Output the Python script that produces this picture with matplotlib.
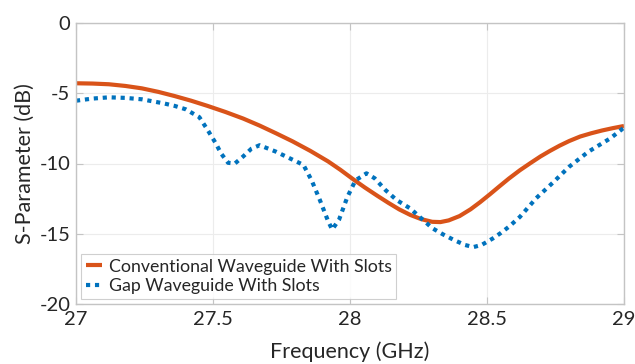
import numpy as np
import matplotlib
matplotlib.use("Agg")
import matplotlib.pyplot as plt

plt.rcParams['font.family'] = ['Lato', 'DejaVu Sans']

# Conventional waveguide with slots (smooth response)
freq_conv = [27.0, 27.06, 27.12, 27.18, 27.24, 27.30, 27.36, 27.42, 27.48,
             27.545, 27.61, 27.67, 27.73, 27.79, 27.855, 27.92, 27.965,
             28.01, 28.055, 28.10, 28.14, 28.18, 28.22, 28.26, 28.30,
             28.33, 28.36, 28.40, 28.44, 28.475, 28.51, 28.545, 28.58,
             28.62, 28.66, 28.695, 28.73, 28.765, 28.80, 28.84, 28.88,
             28.92, 28.96, 29.0]
s_conv = [-4.29, -4.31, -4.36, -4.48, -4.65, -4.9, -5.2, -5.53, -5.9,
          -6.33, -6.8, -7.3, -7.85, -8.42, -9.1, -9.85, -10.45,
          -11.1, -11.72, -12.3, -12.8, -13.27, -13.66, -13.96, -14.15,
          -14.17, -14.05, -13.74, -13.26, -12.75, -12.2, -11.63, -11.07,
          -10.48, -9.95, -9.5, -9.1, -8.73, -8.4, -8.08, -7.85,
          -7.65, -7.48, -7.33]

# Gap waveguide with slots (resonant ripples)
freq_gap = [27.0, 27.06, 27.12, 27.18, 27.24, 27.32, 27.36, 27.40, 27.45,
            27.48, 27.51, 27.53, 27.555, 27.58, 27.61, 27.64, 27.67,
            27.73, 27.78, 27.83, 27.86, 27.89, 27.92, 27.935, 27.96,
            27.99, 28.02, 28.06, 28.09, 28.13, 28.17, 28.22, 28.26,
            28.30, 28.34, 28.38, 28.42, 28.45, 28.48, 28.52, 28.55,
            28.58, 28.62, 28.68, 28.74, 28.80, 28.87, 28.95, 29.0]
s_gap = [-5.53, -5.38, -5.29, -5.33, -5.43, -5.72, -5.9, -6.14, -6.7,
         -7.6, -8.56, -9.3, -9.95, -10.0, -9.5, -8.95, -8.7,
         -9.16, -9.63, -10.1, -11.2, -12.6, -14.1, -14.7, -14.0,
         -12.4, -11.2, -10.7, -11.05, -11.9, -12.6, -13.2, -13.9,
         -14.6, -15.05, -15.45, -15.8, -15.95, -15.8, -15.35, -14.95,
         -14.5, -13.8, -12.46, -11.37, -10.23, -9.16, -8.21, -7.45]

x_ticks = [27, 27.5, 28, 28.5, 29]
y_ticks = [-20, -15, -10, -5, 0]

fig = plt.figure(figsize=(6.35, 3.64), dpi=100)
ax = fig.add_axes([76 / 635, 1 - 304 / 364, (624 - 76) / 635, (304 - 23) / 364])

ax.plot(freq_conv, s_conv, color='#D95319', lw=3.0, solid_capstyle='butt',
        solid_joinstyle='round', label='Conventional Waveguide With Slots')
ax.plot(freq_gap, s_gap, color='#0072BD', lw=3.0, linestyle=(0, (1, 1.15)),
        label='Gap Waveguide With Slots')

ax.set_xlim(27, 29)
ax.set_ylim(-20, 0)
ax.set_xticks(x_ticks)
ax.set_xticklabels(['27', '27.5', '28', '28.5', '29'])
ax.set_yticks(y_ticks)
ax.set_yticklabels(['-20', '-15', '-10', '-5', '0'])
ax.grid(True, color='#ececec', lw=0.8)
ax.set_axisbelow(True)

for sp in ax.spines.values():
    sp.set_color('#c4c4c4')
    sp.set_linewidth(1.0)
ax.tick_params(direction='in', length=5, color='#c4c4c4', labelsize=14.5,
               labelcolor='#262626', top=True, right=True)
ax.tick_params(axis='x', pad=5)
ax.tick_params(axis='y', pad=4)

ax.set_xlabel('Frequency (GHz)', fontsize=15.5, color='#262626', labelpad=9.5)
ax.set_ylabel('S-Parameter (dB)', fontsize=15.5, color='#262626', labelpad=3)

leg = ax.legend(loc='lower left', fontsize=12.8, frameon=True, fancybox=False,
                edgecolor='#c4c4c4', borderaxespad=0.3, handlelength=0.9,
                handletextpad=0.4, labelspacing=0.2, borderpad=0.25)
leg.get_frame().set_linewidth(0.8)
for t in leg.get_texts():
    t.set_color('#262626')

fig.savefig('out.png', dpi=100)
